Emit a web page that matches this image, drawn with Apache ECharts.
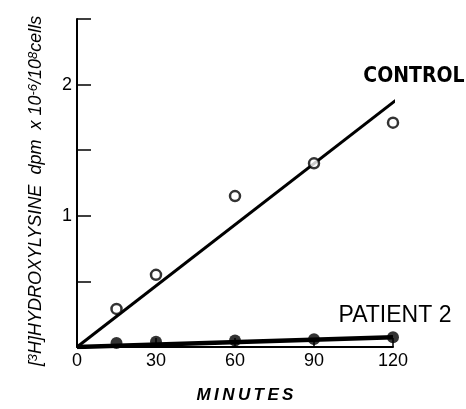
<!DOCTYPE html>
<html>
<head>
    <meta charset="utf-8">
    <title>Hydroxylysine</title>
    <script src="https://cdn.jsdelivr.net/npm/echarts@6/dist/echarts.min.js"></script>
</head>
<body style="margin:0;background:#fff;">
    <div id="main" style="width:466px;height:409px;"></div>
    <script type="text/javascript">
        // sample times (minutes)
        var minutes = [15, 30, 60, 90, 120];
        // [3H]hydroxylysine, dpm x 10^-6 / 10^8 cells
        var control = [0.29, 0.55, 1.15, 1.40, 1.71];
        var patient2 = [0.03, 0.04, 0.05, 0.06, 0.075];
        // drawn regression lines (x ends, y ends)
        var fitX = [0, 121];
        var controlFit = [0, 1.88];
        var patientFitX = [0, 120];
        var patientFit = [0, 0.075];
        var yLabels = [1, 2];

        function pairs(xs, ys) {
            return xs.map(function (x, i) { return [x, ys[i]]; });
        }

        var chart = echarts.init(document.getElementById('main'));

        var option = {
            animation: false,
            backgroundColor: '#fff',
            grid: { left: 77, right: 73, top: 19, bottom: 55 },
            xAxis: {
                type: 'value',
                min: 0,
                max: 120,
                interval: 30,
                name: 'M\u2009I\u2009N\u2009U\u2009T\u2009E\u2009S',
                nameLocation: 'middle',
                nameGap: 40,
                nameTextStyle: {
                    color: '#000', fontSize: 17, fontStyle: 'italic', fontWeight: 'bold',
                    fontFamily: 'Liberation Sans', padding: [0, 0, 0, 20]
                },
                axisLine: { lineStyle: { color: '#000', width: 2 } },
                axisTick: { inside: true, length: 9, lineStyle: { color: '#000', width: 1.5 } },
                axisLabel: { color: '#000', fontSize: 18, margin: 5, fontFamily: 'Liberation Sans' },
                splitLine: { show: false }
            },
            yAxis: {
                type: 'value',
                min: 0,
                max: 2.5,
                interval: 0.5,
                name: '[{sup|3}H]HYDROXYLYSINE  {lc|dpm  x 10}{sup|-6}{lc|/10}{sup|8}{lc|cells}',
                nameLocation: 'middle',
                nameGap: 32,
                nameTextStyle: {
                    color: '#000', fontSize: 18, fontStyle: 'italic',
                    fontFamily: 'Liberation Sans', padding: [0, 16, 0, 0],
                    rich: {
                        sup: { fontSize: 13, fontStyle: 'italic', color: '#000', verticalAlign: 'top', lineHeight: 16, fontFamily: 'Liberation Sans' },
                        lc: { fontSize: 18, fontStyle: 'italic', color: '#000', fontFamily: 'Liberation Sans' }
                    }
                },
                axisLine: { lineStyle: { color: '#000', width: 2 } },
                axisTick: { inside: true, length: 14, lineStyle: { color: '#000', width: 1.5 } },
                axisLabel: {
                    color: '#000', fontSize: 18, margin: 5, fontFamily: 'Liberation Sans',
                    formatter: function (v) { return yLabels.indexOf(v) >= 0 ? String(v) : ''; }
                },
                splitLine: { show: false }
            },
            graphic: [
                {
                    type: 'text', x: 414, y: 77,
                    style: {
                        text: 'CONTROL', fill: '#000', align: 'center', verticalAlign: 'middle',
                        font: 'bold 21px "DejaVu Sans Condensed", "Liberation Sans", sans-serif'
                    }
                },
                {
                    type: 'text', x: 395, y: 316,
                    style: {
                        text: 'PATIENT 2', fill: '#000', align: 'center', verticalAlign: 'middle',
                        font: '23px "Liberation Sans", sans-serif'
                    }
                }
            ],
            series: [
                {
                    type: 'line',
                    data: pairs(fitX, controlFit),
                    showSymbol: false,
                    lineStyle: { color: '#000', width: 3 }
                },
                {
                    type: 'line',
                    data: pairs(patientFitX, patientFit),
                    showSymbol: false,
                    lineStyle: { color: '#000', width: 4.5 }
                },
                {
                    type: 'scatter',
                    data: pairs(minutes, control),
                    symbol: 'circle',
                    symbolSize: 10,
                    itemStyle: { color: '#fff', borderColor: '#000', borderWidth: 2.5 },
                    z: 5
                },
                {
                    type: 'scatter',
                    data: pairs(minutes, patient2),
                    symbol: 'circle',
                    symbolSize: 12,
                    itemStyle: { color: '#000' },
                    z: 5
                }
            ]
        };

        chart.setOption(option);
    </script>
</body>
</html>
